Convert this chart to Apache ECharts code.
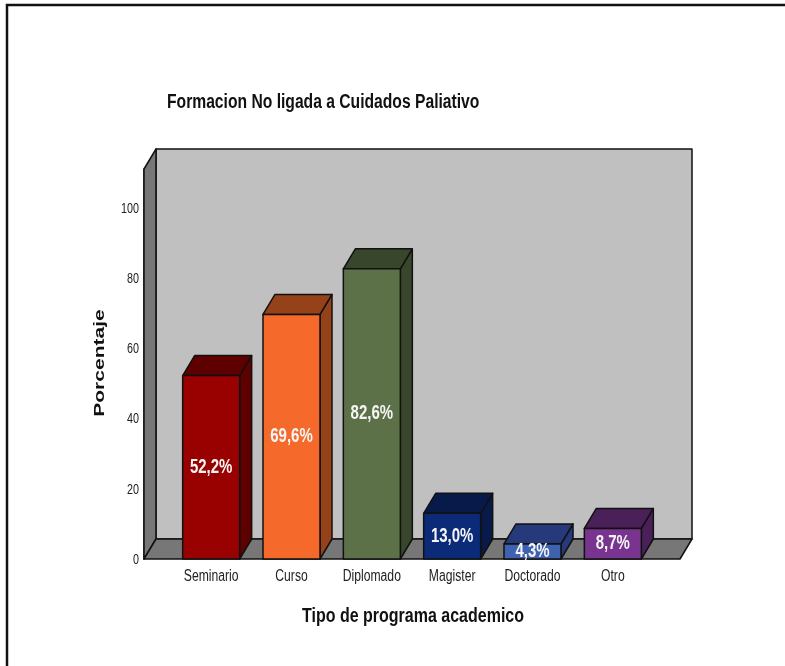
<!DOCTYPE html>
<html><head><meta charset="utf-8">
<style>html,body{margin:0;padding:0;background:#fff}#c{width:785px;height:666px}</style>
<script src="https://cdn.jsdelivr.net/npm/echarts@6/dist/echarts.min.js"></script>
</head><body><div id="c"></div>
<script>
const categories = ['Seminario','Curso','Diplomado','Magister','Doctorado','Otro'];
const values = [52.2,69.6,82.6,13.0,4.3,8.7];
const labels = ['52,2%','69,6%','82,6%','13,0%','4,3%','8,7%'];
const frontColors = ['#990000','#F5692B','#5C7148','#0B2A78','#3F61B0','#78348F'];
const sideColors = ['#5E0000','#964219','#38462C','#071A4A','#26397A','#4A2058'];
const topColors = ['#5E0000','#964219','#38462C','#071A4A','#26397A','#4A2058'];
const yTicks = [0,20,40,60,80,100];
const yMax = 111;
const chartTitle = 'Formacion No ligada a Cuidados Paliativo';
const xTitle = 'Tipo de programa academico';
const yTitle = 'Porcentaje';

const DX = 12, DY = -20, BAR_W = 57, FLOOR_L = 27, FLOOR_R = 27;
const FONT = 'Liberation Sans';
const stroke = {stroke:'#111', lineWidth:1.5, lineJoin:'round'};
const poly = (pts, fill) => ({type:'polygon', shape:{points:pts}, style:{fill, ...stroke}});
// Condensed / extended lettering of the original: real text with a horizontal scale
const txt = (text, x, y, o) => ({type:'text', x, y, scaleX:o.sx, rotation:o.rot||0, z2:10, silent:true,
  style:{text, x:0, y:0, align:o.align||'center', verticalAlign:'middle', fill:o.fill||'#111',
    fontFamily:FONT, fontWeight:o.bold?'bold':'normal', fontSize:o.size}});

const chart = echarts.init(document.getElementById('c'));
chart.setOption({
  animation:false,
  backgroundColor:'#fff',
  graphic:[
    {type:'polyline', z:100, silent:true, shape:{points:[[7,666],[7,5],[785,5]]},
     style:{fill:null, stroke:'#111', lineWidth:2.5}},
    {...txt(chartTitle, 167, 102, {sx:0.783, size:20, bold:true, align:'left'}), z:100},
    {...txt(xTitle, 413, 616, {sx:0.80, size:20, bold:true}), z:100},
    {...txt(yTitle, 100, 363, {sx:1.45, size:14.5, bold:true, rot:Math.PI/2}), z:100}
  ],
  grid:{left:171, width:482, top:169, bottom:107},
  xAxis:{type:'category', data:categories, boundaryGap:true,
    axisLine:{show:false}, axisTick:{show:false}, axisLabel:{show:false}},
  yAxis:{type:'value', min:0, max:yMax, interval:20, offset:27,
    axisLine:{show:true, lineStyle:{color:'#111', width:1.5}},
    axisTick:{show:false}, splitLine:{show:false}, axisLabel:{show:false}},
  series:[
    {type:'custom', coordinateSystem:'cartesian2d', z:1, silent:true, data:[[0,0]],
     encode:{x:0,y:1},
     renderItem(params, api){
       const c = params.coordSys;
       const l = c.x - FLOOR_L, r = c.x + c.width + FLOOR_R, b = c.y + c.height, t = c.y;
       return {type:'group', children:[
         poly([[l+DX,t+DY],[r+DX,t+DY],[r+DX,b+DY],[l+DX,b+DY]], '#C0C0C0'),
         poly([[l,t],[l+DX,t+DY],[l+DX,b+DY],[l,b]], '#777777'),
         poly([[l,b],[l+DX,b+DY],[r+DX,b+DY],[r,b]], '#777777')
       ]};
     }},
    {type:'custom', coordinateSystem:'cartesian2d', z:2, silent:true,
     data:values.map((v,i)=>[i,v]), encode:{x:0,y:1},
     renderItem(params, api){
       const i = api.value(0), top = api.coord([i, api.value(1)]), base = api.coord([i, 0]);
       const x0 = top[0]-BAR_W/2, x1 = top[0]+BAR_W/2, y0 = top[1], y1 = base[1];
       return {type:'group', children:[
         poly([[x1,y0],[x1+DX,y0+DY],[x1+DX,y1+DY],[x1,y1]], sideColors[i]),
         poly([[x0,y0],[x0+DX,y0+DY],[x1+DX,y0+DY],[x1,y0]], topColors[i]),
         poly([[x0,y0],[x1,y0],[x1,y1],[x0,y1]], frontColors[i]),
         txt(labels[i], top[0], (y0+y1)/2, {sx:0.75, size:20, bold:true, fill:'#F5F5F5'}),
         txt(categories[i], top[0], y1+18, {sx:0.76, size:16, fill:'#222'})
       ]};
     }},
    {type:'custom', coordinateSystem:'cartesian2d', z:3, silent:true,
     data:yTicks.map(v=>[0,v]), encode:{x:0,y:1},
     renderItem(params, api){
       const v = api.value(1), p = api.coord([0, v]);
       return txt(String(v), params.coordSys.x - 32, p[1]+1, {sx:0.77, size:14, fill:'#222', align:'right'});
     }}
  ]
});
</script></body></html>
